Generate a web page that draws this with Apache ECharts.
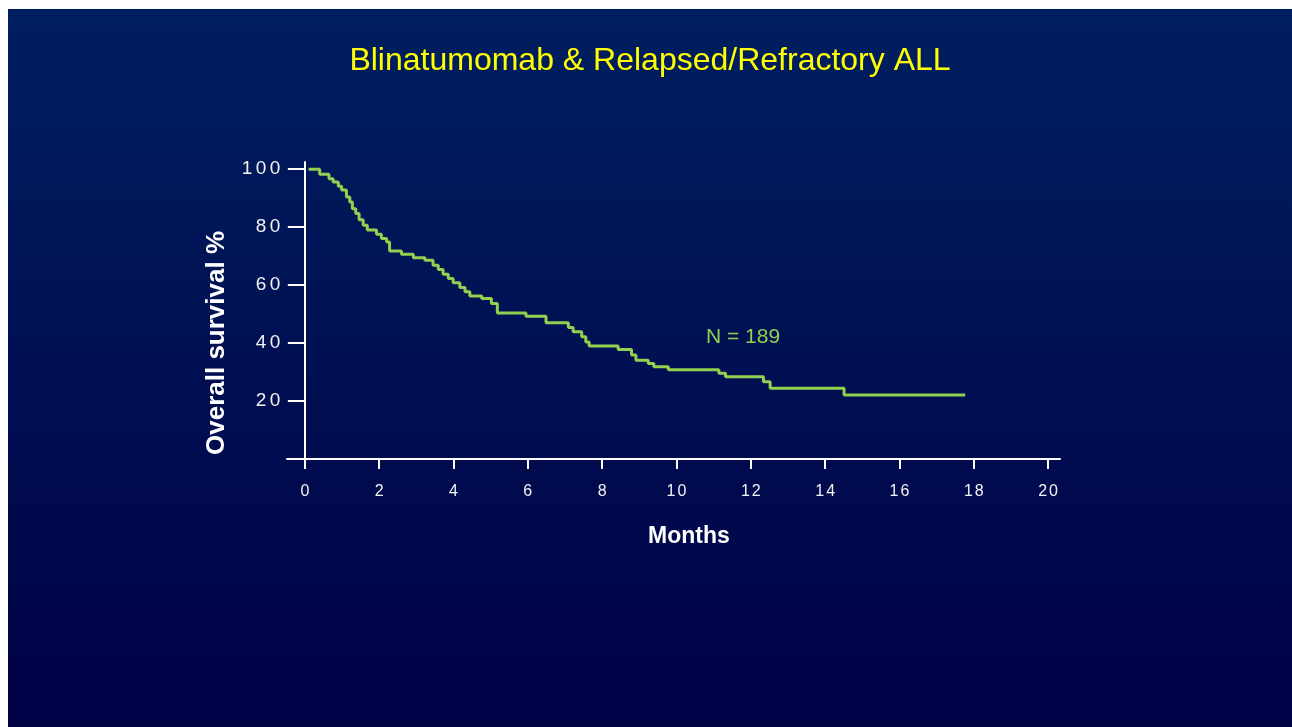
<!DOCTYPE html>
<html>
<head>
<meta charset="utf-8">
<script src="https://cdn.jsdelivr.net/npm/echarts@6/dist/echarts.min.js"></script>
<style>
  html, body { margin: 0; padding: 0; background: #ffffff; width: 1292px; height: 727px; overflow: hidden; }
  #chart { position: absolute; left: 8px; top: 9px; width: 1284px; height: 718px; }
</style>
</head>
<body>
<div id="chart"></div>
<script>
// Kaplan-Meier overall survival (months, % surviving after the step)
const months   = [0.1, 0.40, 0.65, 0.76, 0.90, 0.99, 1.12, 1.21, 1.28, 1.37, 1.46, 1.57, 1.68, 1.93, 2.06, 2.20, 2.28, 2.60, 2.92, 3.23, 3.45, 3.59, 3.72, 3.86, 3.99, 4.17, 4.31, 4.44, 4.76, 5.02, 5.18, 5.95, 6.49, 7.09, 7.22, 7.45, 7.56, 7.65, 8.43, 8.79, 8.91, 9.24, 9.39, 9.78, 11.14, 11.32, 12.34, 12.52, 14.51, 17.77];
const survival = [100, 98.3, 96.7, 95.6, 94.1, 92.8, 90.4, 88.7, 86.4, 84.7, 82.6, 80.7, 79.0, 77.6, 76.1, 74.9, 71.8, 70.7, 69.5, 68.6, 66.9, 65.4, 63.8, 62.3, 60.8, 59.2, 57.7, 56.3, 55.4, 53.7, 50.4, 49.3, 47.0, 45.4, 43.9, 42.2, 40.4, 39.0, 37.8, 35.9, 34.1, 33.0, 31.8, 30.8, 29.6, 28.4, 26.7, 24.4, 22.1, 22.1];
const xTicks = [0, 2, 4, 6, 8, 10, 12, 14, 16, 18, 20];
const yTicks = [20, 40, 60, 80, 100];
const titleText = 'Blinatumomab & Relapsed/Refractory ALL';
const xName = 'Months';
const yName = 'Overall survival %';
const noteText = 'N = 189';

const FONT = '"Liberation Sans", Arial, sans-serif';
// letter-spaced numerals via rich text fragments
const spaced = v => String(v).split('').map(c => '{d|' + c + '}').join('');

const chart = echarts.init(document.getElementById('chart'));
chart.setOption({
  backgroundColor: {
    type: 'linear', x: 0, y: 0, x2: 0, y2: 1,
    colorStops: [
      { offset: 0, color: '#001f5f' },
      { offset: 1, color: '#000045' }
    ]
  },
  animation: false,
  title: {
    text: titleText,
    left: 'center',
    top: 31,
    textStyle: { color: '#ffff00', fontFamily: FONT, fontWeight: 'normal', fontSize: 32 }
  },
  grid: { left: 279, right: 232, top: 153, bottom: 259, containLabel: false },
  xAxis: {
    type: 'value',
    min: -0.48, max: 20.32,
    axisLine: { onZero: true, lineStyle: { color: '#ffffff', width: 2 } },
    axisTick: { show: true, customValues: xTicks, length: 10, inside: false, lineStyle: { color: '#ffffff', width: 2 } },
    axisLabel: {
      customValues: xTicks, formatter: spaced, color: '#f2f2f2', margin: 16,
      rich: { d: { color: '#f2f2f2', fontFamily: FONT, fontSize: 16, padding: [0, 1, 0, 1] } }
    },
    splitLine: { show: false }
  },
  yAxis: {
    type: 'value',
    min: -3.1, max: 102.5,
    axisLine: { show: true, onZero: true, lineStyle: { color: '#ffffff', width: 2 } },
    axisTick: { show: true, customValues: yTicks, length: 17, inside: false, lineStyle: { color: '#ffffff', width: 2 } },
    axisLabel: {
      customValues: yTicks, formatter: spaced, color: '#f2f2f2', margin: 5,
      rich: { d: { color: '#f2f2f2', fontFamily: FONT, fontSize: 19, padding: [0, 1.7, 0, 1.7] } }
    },
    splitLine: { show: false }
  },
  graphic: [
    {
      type: 'text', left: 640, top: 516,
      style: { text: xName, fill: '#ffffff', font: 'bold 23px ' + FONT }
    },
    {
      type: 'text', x: 209, y: 334, rotation: Math.PI / 2,
      style: { text: yName, fill: '#ffffff', font: 'bold 26px ' + FONT, align: 'center', verticalAlign: 'middle' }
    },
    {
      type: 'text', left: 698, top: 318,
      style: { text: noteText, fill: '#92d050', font: '21px ' + FONT }
    }
  ],
  series: [{
    type: 'line',
    step: 'end',
    data: months.map((m, i) => [m, survival[i]]),
    showSymbol: false,
    symbol: 'none',
    lineStyle: { color: '#92d050', width: 3 },
    z: 3
  }]
});
</script>
</body>
</html>
